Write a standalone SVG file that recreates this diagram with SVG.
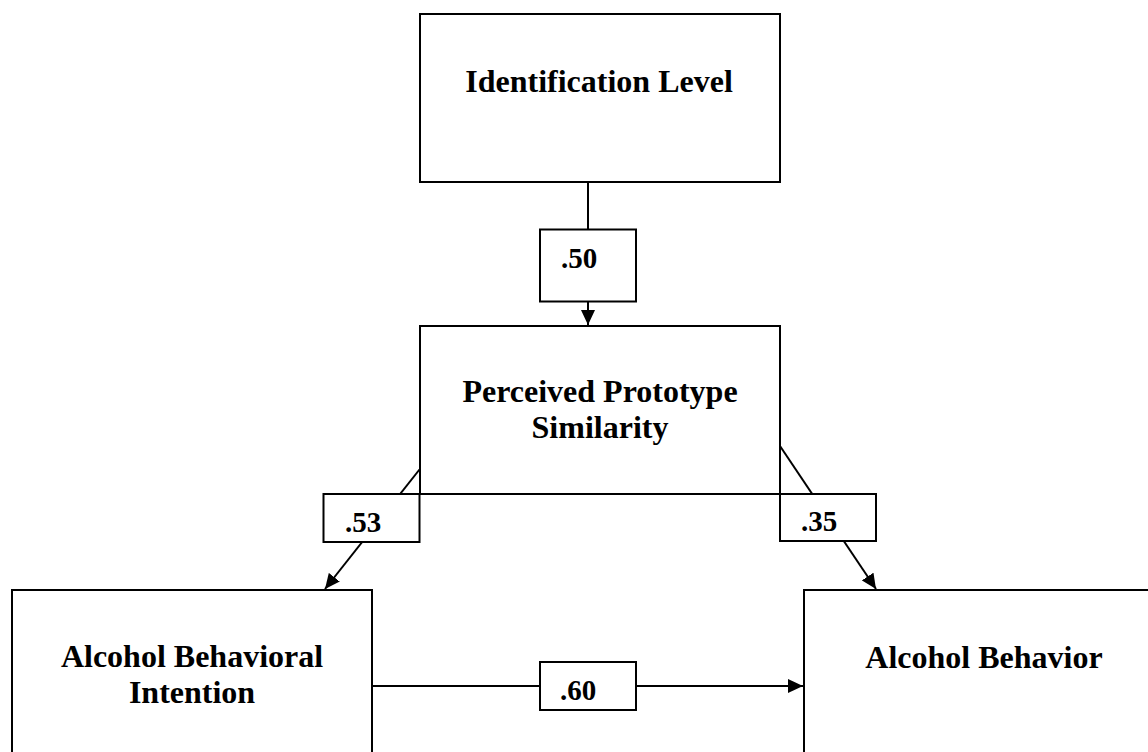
<svg xmlns="http://www.w3.org/2000/svg" width="1148" height="752" viewBox="0 0 1148 752">
<style>
.box{fill:#fff;stroke:#000;stroke-width:2}
.lbl{fill:#fff;stroke:#000;stroke-width:2}
.t{font-family:"Liberation Serif","Times New Roman",serif;font-weight:bold;font-size:32px;fill:#000;text-anchor:middle}
.n{font-family:"Liberation Serif","Times New Roman",serif;font-weight:bold;font-size:29px;fill:#000}
.c{stroke:#000;stroke-width:2;fill:none}
</style>
<defs>
<marker id="ah" markerUnits="userSpaceOnUse" markerWidth="16" markerHeight="14" refX="15" refY="7" orient="auto">
<path d="M0,0 L15,7 L0,14 Z" fill="#000"/>
</marker>
</defs>
<rect width="1148" height="752" fill="#fff"/>
<g id="node-identification">
<rect class="box" x="420" y="14" width="360" height="168"/>
<text class="t" x="599" y="92">Identification Level</text>
</g>
<g id="node-pps">
<rect class="box" x="420" y="326" width="360" height="168"/>
<text class="t" x="600" y="402">Perceived Prototype</text>
<text class="t" x="600" y="438">Similarity</text>
</g>
<g id="node-abi">
<rect class="box" x="12" y="590" width="360" height="180"/>
<text class="t" x="192" y="667">Alcohol Behavioral</text>
<text class="t" x="192" y="703">Intention</text>
</g>
<g id="node-ab">
<rect class="box" x="804" y="590" width="360" height="180"/>
<text class="t" x="984" y="668">Alcohol Behavior</text>
</g>
<g id="connectors">
<line class="c" x1="588" y1="182" x2="588" y2="325" marker-end="url(#ah)"/>
<line class="c" x1="419.5" y1="469.5" x2="325" y2="589" marker-end="url(#ah)"/>
<line class="c" x1="780" y1="446" x2="876" y2="589" marker-end="url(#ah)"/>
<line class="c" x1="372" y1="686" x2="803" y2="686" marker-end="url(#ah)"/>
</g>
<g id="label-50">
<rect class="lbl" x="540" y="229.5" width="96" height="72"/>
<text class="n" x="561" y="268">.50</text>
</g>
<g id="label-53">
<rect class="lbl" x="323.5" y="494" width="96" height="48"/>
<text class="n" x="345" y="532">.53</text>
</g>
<g id="label-35">
<rect class="lbl" x="780" y="494" width="96" height="47"/>
<text class="n" x="801" y="531">.35</text>
</g>
<g id="label-60">
<rect class="lbl" x="540" y="662" width="96" height="48"/>
<text class="n" x="560" y="700">.60</text>
</g>
</svg>
